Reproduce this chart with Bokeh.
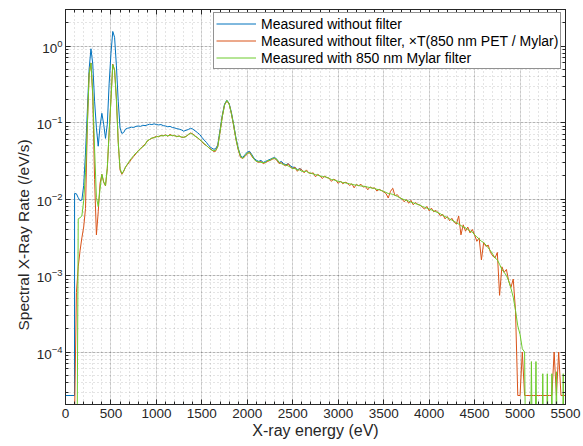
from bokeh.plotting import figure
from bokeh.models import (LinearAxis, SingleIntervalTicker, LogTicker,
                          Legend, LegendItem, CustomJSTickFormatter, Title)
from bokeh.embed import file_html
from bokeh.resources import INLINE

# ---------------- data ----------------
energy_low = [0, 50, 99, 100, 120, 140, 160, 180, 200, 220, 240, 260, 280, 300,
              320, 340, 360, 380, 400, 420, 440, 460, 480, 500, 520, 540, 560,
              580, 600, 620, 640, 660, 680]
energy_high = list(range(700, 5501, 25))
energy = energy_low + energy_high

blue_low = [2.7e-5, 2.7e-5, 2.7e-5, 0.0118, 0.0117, 0.0104, 0.0095, 0.0097, 0.0150,
            0.040, 0.14, 0.50, 0.92, 0.58, 0.19, 0.085, 0.049, 0.090, 0.132, 0.095,
            0.062, 0.095, 0.32, 0.80, 1.55, 1.30, 0.55, 0.19, 0.085, 0.072, 0.074,
            0.082, 0.084]
blue_high = [
    0.085, 0.087, 0.086, 0.089, 0.090, 0.089, 0.092, 0.091,
    0.093, 0.095, 0.094, 0.096, 0.094, 0.093, 0.094, 0.091,
    0.090, 0.088, 0.089, 0.086, 0.085, 0.083, 0.082, 0.080,
    0.077, 0.079, 0.081, 0.084, 0.082, 0.078, 0.074, 0.070,
    0.064, 0.059, 0.055, 0.050, 0.047, 0.045, 0.045, 0.051,
    0.080, 0.125, 0.175, 0.195, 0.178, 0.135, 0.094, 0.063,
    0.046, 0.037, 0.035, 0.038, 0.041, 0.042, 0.038, 0.034,
    0.032, 0.031, 0.032, 0.030, 0.031, 0.032, 0.033, 0.034,
    0.035, 0.033, 0.030, 0.031, 0.029, 0.028, 0.029, 0.027,
    0.026, 0.026, 0.024, 0.025, 0.024,
]
blue = blue_low + blue_high

orange_low = [1e-7, 1e-7, 1e-7, 1.5e-5, 0.0006, 0.0013, 0.0021, 0.0031, 0.0043,
              0.0075, 0.09, 0.43, 0.60, 0.22, 0.018, 0.0034, 0.0068, 0.0160, 0.021,
              0.0165, 0.0148, 0.025, 0.075, 0.20, 0.58, 0.48, 0.20, 0.055, 0.024,
              0.021, 0.023, 0.026, 0.028]
orange_high = [
    0.030, 0.033, 0.036, 0.039, 0.043, 0.045, 0.049, 0.052,
    0.057, 0.060, 0.062, 0.064, 0.066, 0.065, 0.068, 0.067,
    0.069, 0.066, 0.070, 0.067, 0.068, 0.065, 0.067, 0.064,
    0.064, 0.066, 0.069, 0.073, 0.071, 0.067, 0.063, 0.060,
    0.056, 0.052, 0.050, 0.047, 0.045, 0.042, 0.042, 0.049,
    0.075, 0.120, 0.170, 0.190, 0.175, 0.130, 0.090, 0.060,
    0.044, 0.035, 0.034, 0.036, 0.039, 0.041, 0.036, 0.033,
    0.031, 0.030, 0.031, 0.029, 0.030, 0.031, 0.032, 0.033,
    0.034, 0.032, 0.029, 0.030, 0.028, 0.027, 0.029, 0.026,
    0.025, 0.026, 0.023, 0.025, 0.024, 0.022, 0.024, 0.022,
    0.0215, 0.022, 0.0195, 0.021, 0.020, 0.0185, 0.020, 0.019,
    0.0188, 0.0170, 0.0182, 0.0175, 0.0160, 0.0172, 0.0158, 0.0166,
    0.0162, 0.0150, 0.0158, 0.0140, 0.0155, 0.0149, 0.0156, 0.0143,
    0.0146, 0.0132, 0.0144, 0.0138, 0.0140, 0.0127, 0.0134, 0.0129,
    0.0124, 0.0118, 0.0103, 0.0126, 0.0138, 0.0110, 0.0114, 0.0104,
    0.0101, 0.0092, 0.0098, 0.0088, 0.0096, 0.0084, 0.0090, 0.0085,
    0.0083, 0.0078, 0.0074, 0.0080, 0.0070, 0.0076, 0.0068, 0.0071,
    0.0066, 0.0060, 0.0063, 0.0055, 0.0059, 0.0052, 0.0056, 0.0050,
    0.0047, 0.0060, 0.0034, 0.0046, 0.0038, 0.0043, 0.0036, 0.0040,
    0.0034, 0.0028, 0.0031, 0.0016, 0.0027, 0.0024, 0.0025, 0.0020,
    0.0018, 0.0017, 0.0020, 0.00055, 0.0013, 0.0011, 0.0012, 0.00085,
    0.00070, 0.00090, 0.00035, 2.7e-5, 2.7e-5, 1.0e-4, 2.7e-5, 2.7e-5,
    2.7e-5, 2.7e-5, 2.7e-5, 2.7e-5, 2.7e-5, 2.7e-5, 2.7e-5, 2.7e-5,
    2.7e-5, 2.7e-5, 2.7e-5, 1.0e-4, 2.7e-5, 1.0e-4, 2.7e-5, 2.7e-5,
    2.7e-5,
]
orange = orange_low + orange_high

green_low = [1e-7, 1e-7, 1e-7, 1e-7, 1e-7, 0.0055, 0.0057, 0.0060, 0.0095, 0.022,
             0.09, 0.43, 0.60, 0.24, 0.045, 0.0105, 0.0080, 0.0135, 0.021, 0.0168,
             0.0150, 0.026, 0.074, 0.20, 0.57, 0.49, 0.20, 0.056, 0.025, 0.0215,
             0.0232, 0.0262, 0.0285]
green_high = [
    0.031, 0.034, 0.037, 0.040, 0.042, 0.046, 0.048, 0.051,
    0.058, 0.060, 0.063, 0.063, 0.065, 0.066, 0.067, 0.067,
    0.068, 0.067, 0.068, 0.068, 0.067, 0.066, 0.066, 0.065,
    0.064, 0.065, 0.070, 0.072, 0.070, 0.066, 0.064, 0.060,
    0.057, 0.053, 0.050, 0.047, 0.044, 0.043, 0.043, 0.048,
    0.076, 0.120, 0.170, 0.195, 0.175, 0.130, 0.092, 0.061,
    0.045, 0.036, 0.034, 0.037, 0.040, 0.040, 0.037, 0.033,
    0.031, 0.031, 0.030, 0.030, 0.030, 0.032, 0.032, 0.034,
    0.034, 0.033, 0.030, 0.029, 0.028, 0.028, 0.027, 0.026,
    0.025, 0.025, 0.024, 0.024, 0.023, 0.023, 0.023, 0.022,
    0.0218, 0.0212, 0.0208, 0.0205, 0.0200, 0.0197, 0.0195, 0.0192,
    0.0186, 0.0180, 0.0178, 0.0174, 0.0170, 0.0168, 0.0164, 0.0163,
    0.0160, 0.0158, 0.0156, 0.0153, 0.0152, 0.0150, 0.0148, 0.0147,
    0.0146, 0.0143, 0.0141, 0.0139, 0.0137, 0.0134, 0.0132, 0.0129,
    0.0126, 0.0122, 0.0118, 0.0117, 0.0115, 0.0112, 0.0108, 0.0104,
    0.0101, 0.0098, 0.0096, 0.0094, 0.0091, 0.0089, 0.0087, 0.0085,
    0.0083, 0.0080, 0.0078, 0.0076, 0.0074, 0.0072, 0.0070, 0.0068,
    0.0066, 0.0064, 0.0061, 0.0059, 0.0057, 0.0055, 0.0053, 0.0051,
    0.0049, 0.0047, 0.0045, 0.0043, 0.0042, 0.0040, 0.0038, 0.0037,
    0.0034, 0.0032, 0.0030, 0.0028, 0.0027, 0.0025, 0.0023, 0.0021,
    0.0019, 0.0017, 0.0016, 0.0014, 0.0012, 0.0011, 0.0010, 0.00085,
    0.00068, 0.00052, 0.00035, 0.00022, 0.00017, 0.00011, 0.00010, 1e-7,
    1e-7, 7.5e-5, 1e-7, 7.5e-5, 1e-7, 1e-7, 5.2e-5, 1e-7,
    5.2e-5, 1e-7, 5.2e-5, 1e-7, 5.5e-5, 1e-7, 1e-7, 5.2e-5,
    1e-7,
]
green = green_low + green_high

labels = ["Measured without filter",
          "Measured without filter, \u00d7T(850 nm PET / Mylar)",
          "Measured with 850 nm Mylar filter"]
colors = ["#0072BD", "#D95319", "#6CCB2C"]
x_title = "X-ray energy (eV)"
y_title = "Spectral X-Ray Rate (/eV/s)"

# ---------------- figure ----------------
FONT = "Liberation Sans"
TXT = "#262626"

p = figure(width=583, height=446, y_axis_type="log",
           x_range=(0, 5500), y_range=(2.06e-5, 3.0),
           output_backend="svg", toolbar_location=None,
           min_border_left=65, min_border_right=18,
           min_border_top=9, min_border_bottom=42)
p.background_fill_color = "white"
p.border_fill_color = "white"
p.outline_line_color = TXT
p.outline_line_width = 1

xticker = SingleIntervalTicker(interval=500, num_minor_ticks=5)
yticker = LogTicker(num_minor_ticks=10)
p.xaxis.ticker = xticker
p.yaxis.ticker = yticker

for ax in (p.xaxis[0], p.yaxis[0]):
    ax.axis_line_color = TXT
    ax.major_tick_line_color = TXT
    ax.minor_tick_line_color = TXT
    ax.major_tick_in = 5
    ax.major_tick_out = 0
    ax.minor_tick_in = 3
    ax.minor_tick_out = 0
    ax.major_label_text_font = FONT
    ax.major_label_text_font_size = "13.5px"
    ax.major_label_text_color = TXT
    ax.axis_label_text_font = FONT
    ax.axis_label_text_font_size = "16px"
    ax.axis_label_text_font_style = "normal"
    ax.axis_label_text_color = TXT

p.xaxis.axis_label = x_title
p.xaxis.major_label_standoff = 4
p.xaxis.axis_label_standoff = 1
p.yaxis.major_label_standoff = 3

ytitle = Title(text=y_title, align="left", offset=74, standoff=4,
               text_font=FONT, text_font_size="15.5px", text_font_style="normal",
               text_color=TXT)
p.add_layout(ytitle, "left")

blank = CustomJSTickFormatter(code="return ''")
top = LinearAxis(ticker=xticker, formatter=blank, major_label_text_font_size="2px",
                 major_label_standoff=0)
right = LinearAxis(ticker=yticker, formatter=blank, major_label_text_font_size="2px",
                   major_label_standoff=0)
for ax in (top, right):
    ax.axis_line_color = TXT
    ax.major_tick_line_color = TXT
    ax.minor_tick_line_color = TXT
    ax.major_tick_in = 5
    ax.major_tick_out = 0
    ax.minor_tick_in = 3
    ax.minor_tick_out = 0
p.add_layout(top, "above")
p.add_layout(right, "right")

for g in (p.xgrid[0], p.ygrid[0]):
    g.grid_line_color = TXT
    g.grid_line_alpha = 0.15
    g.minor_grid_line_color = TXT
    g.minor_grid_line_alpha = 0.25
    g.minor_grid_line_dash = "1 3"

r_blue = p.line(energy[:len(blue)], blue, line_color=colors[0], line_width=1)
r_orange = p.line(energy, orange, line_color=colors[1], line_width=1)
r_green = p.line(energy, green, line_color=colors[2], line_width=1)

legend = Legend(items=[LegendItem(label=labels[0], renderers=[r_blue]),
                       LegendItem(label=labels[1], renderers=[r_orange]),
                       LegendItem(label=labels[2], renderers=[r_green])],
                location=(148, 335))
legend.label_text_font = FONT
legend.label_text_font_size = "14px"
legend.label_text_color = "black"
legend.glyph_width = 40
legend.glyph_height = 17
legend.label_height = 17
legend.label_standoff = 5
legend.padding = 2
legend.spacing = 0
legend.margin = 0
legend.border_line_color = TXT
legend.border_line_width = 1
legend.background_fill_alpha = 1
p.add_layout(legend)

open("out.html", "w").write(file_html(p, INLINE))
